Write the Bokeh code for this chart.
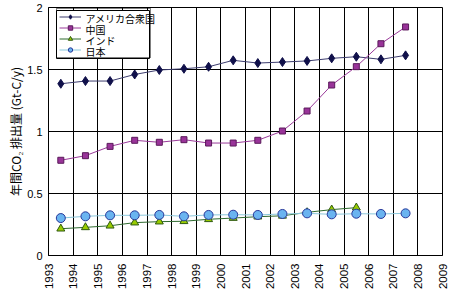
from bokeh.plotting import figure
from bokeh.models import (FixedTicker, Range1d, Legend, LegendItem, Label, BoxAnnotation,
                          PolyAnnotation)
from bokeh.embed import file_html
from bokeh.resources import INLINE
import math

# ---- data ----
years = list(range(1993, 2008))
usa = [1.385, 1.407, 1.407, 1.46, 1.496, 1.506, 1.522, 1.574, 1.552, 1.56, 1.569, 1.59, 1.603, 1.582, 1.614]
china = [0.768, 0.805, 0.88, 0.929, 0.913, 0.934, 0.907, 0.907, 0.929, 1.004, 1.165, 1.375, 1.523, 1.708, 1.843]
india_years = list(range(1993, 2006))
india = [0.216, 0.227, 0.24, 0.265, 0.273, 0.276, 0.292, 0.302, 0.313, 0.32, 0.348, 0.37, 0.386]
japan = [0.302, 0.316, 0.324, 0.324, 0.327, 0.316, 0.327, 0.329, 0.327, 0.335, 0.34, 0.332, 0.337, 0.335, 0.34]
series_names = ["アメリカ合衆国", "中国", "インド", "日本"]
x_ticks = list(range(1993, 2010))
y_ticks = [0, 0.5, 1, 1.5, 2]
y_tick_labels = ["0", "0.5", "1", "1.5", "2"]
y_title = "年間CO₂ 排出量 (Gt-C/y)"

# points sit in the middle of each year
xs = [y + 0.5 for y in years]
xs_india = [y + 0.5 for y in india_years]

BORDER_L, BORDER_R, BORDER_T, BORDER_B = 48, 8, 7, 45
W, H = 450, 300
p = figure(width=W, height=H, x_range=Range1d(1993, 2009), y_range=Range1d(0, 2),
           output_backend="svg", toolbar_location=None,
           min_border_left=BORDER_L, min_border_right=BORDER_R,
           min_border_top=BORDER_T, min_border_bottom=BORDER_B)
p.background_fill_color = "white"
p.border_fill_color = "white"
p.outline_line_color = "black"
p.outline_line_width = 1

p.xaxis.ticker = FixedTicker(ticks=x_ticks)
p.yaxis.ticker = FixedTicker(ticks=y_ticks)
p.yaxis.major_label_overrides = {t: l for t, l in zip(y_ticks, y_tick_labels)}
p.xgrid.ticker = FixedTicker(ticks=x_ticks)
p.ygrid.ticker = FixedTicker(ticks=y_ticks)
for g in (p.xgrid, p.ygrid):
    g.grid_line_color = "black"
    g.grid_line_width = 1
    g.grid_line_alpha = 1

for ax in (p.xaxis, p.yaxis):
    ax.axis_line_color = "black"
    ax.major_tick_out = 0
    ax.major_tick_in = 0
    ax.minor_tick_out = 0
    ax.minor_tick_in = 0
    ax.major_label_text_font = "Liberation Sans"
    ax.major_label_text_color = "black"

p.xaxis.major_label_standoff = 8
p.yaxis.major_label_standoff = 6
p.xaxis.major_label_orientation = math.pi / 2
p.xaxis.major_label_text_font_size = "11.5px"
p.yaxis.major_label_text_font_size = "11px"
p.yaxis.axis_label = y_title
p.yaxis.axis_label_text_font = "Noto Sans CJK JP"
p.yaxis.axis_label_text_font_size = "12px"
p.yaxis.axis_label_text_font_style = "normal"
p.yaxis.axis_label_text_color = "black"
p.yaxis.axis_label_text_line_height = 1.0
p.yaxis.axis_label_standoff = 0

l_us = p.line(xs, usa, line_color="#3c3c6e", line_width=1)
m_us = p.scatter(xs, usa, marker="diamond", size=9, fill_color="#10104a", line_color="#10104a")
l_cn = p.line(xs, china, line_color="#9a3a9a", line_width=1)
m_cn = p.scatter(xs, china, marker="square", size=6, fill_color="#993399", line_color="#5a1a5a")
l_in = p.line(xs_india, india, line_color="#2f6a2f", line_width=1)
m_in = p.scatter(xs_india, india, marker="triangle", size=8, fill_color="#99cc00", line_color="#2f5a10")
l_jp = p.line(xs, japan, line_color="#8cc8dc", line_width=1)
m_jp = p.scatter(xs, japan, marker="circle", size=9, fill_color="#6ab4f0", line_color="#28389a")

# legend: white box + Bokeh legend glyph samples + label texts + border outline
LEG_X, LEG_TOP = 8, 3          # offset of legend box from frame left / top
ROW_H, PAD, GLYPH_W, STANDOFF, TEXT_W = 11, 2, 22, 3, 64
frame_h = H - BORDER_T - BORDER_B
leg_h = 4 * ROW_H + 2 * PAD
leg_w = 2 * PAD + GLYPH_W + STANDOFF + TEXT_W
bx0, bx1 = LEG_X, LEG_X + leg_w
by1, by0 = frame_h - LEG_TOP, frame_h - LEG_TOP - leg_h

p.add_layout(BoxAnnotation(
    left=bx0, right=bx1, top=by1, bottom=by0,
    left_units="screen", right_units="screen", top_units="screen", bottom_units="screen",
    fill_color="white", fill_alpha=1, line_color=None))

legend = Legend(items=[
    LegendItem(label="", renderers=[l_us, m_us]),
    LegendItem(label="", renderers=[l_cn, m_cn]),
    LegendItem(label="", renderers=[l_in, m_in]),
    LegendItem(label="", renderers=[l_jp, m_jp]),
], location=(LEG_X, by0))
legend.label_height = ROW_H
legend.glyph_height = ROW_H
legend.glyph_width = GLYPH_W
legend.label_width = TEXT_W
legend.spacing = 0
legend.padding = PAD
legend.margin = 0
legend.label_standoff = STANDOFF
legend.border_line_color = "black"
legend.border_line_width = 1
legend.background_fill_alpha = 0
p.add_layout(legend)

for i, name in enumerate(series_names):
    p.add_layout(Label(
        x=LEG_X + PAD + GLYPH_W + STANDOFF + 2,
        y=frame_h - LEG_TOP - PAD - ROW_H * (i + 0.5),
        x_units="screen", y_units="screen", text=name, level="overlay",
        text_font="Noto Sans CJK JP", text_font_size="10px", text_color="black",
        text_baseline="middle", text_align="left"))

p.add_layout(PolyAnnotation(
    xs=[bx0, bx1, bx1, bx0], ys=[by0, by0, by1, by1],
    xs_units="screen", ys_units="screen", level="overlay",
    fill_alpha=0, line_color="black", line_width=1, line_alpha=1))

open("out.html", "w").write(file_html(p, INLINE))
